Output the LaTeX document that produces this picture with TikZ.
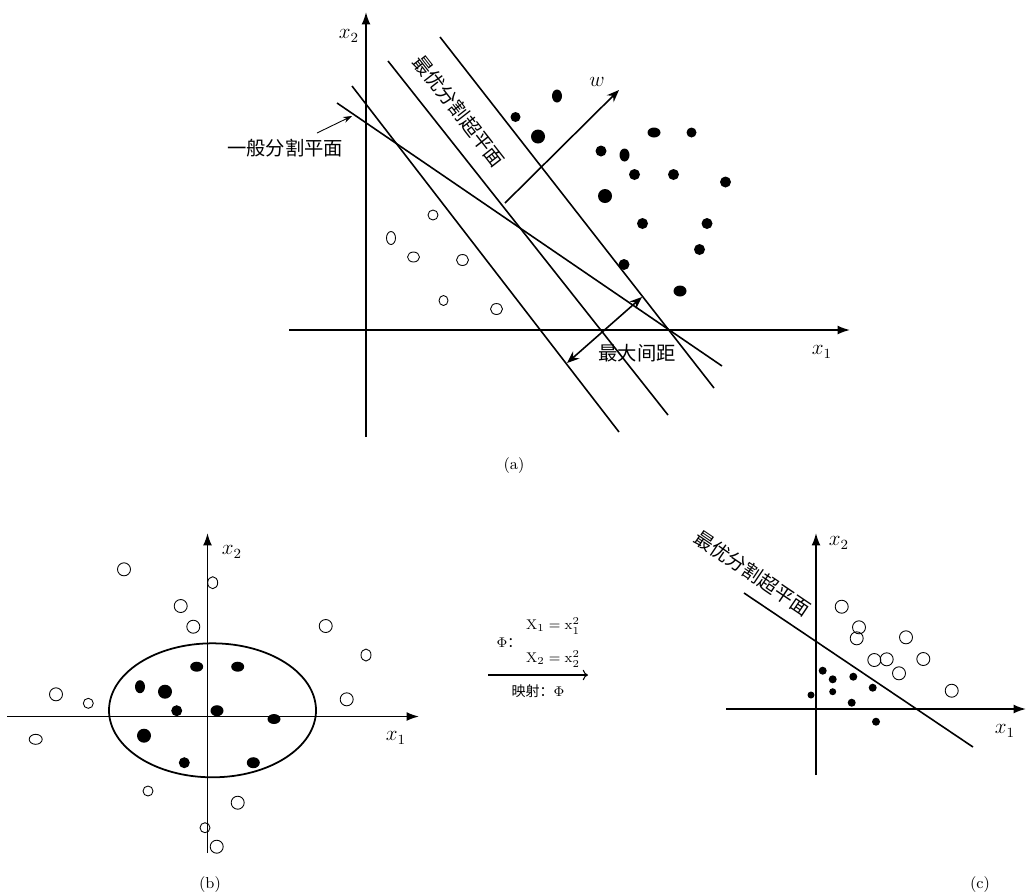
\documentclass[tikz,border=0pt]{standalone}
\usepackage{fontspec}
\newfontfamily\cjk{Noto Sans CJK SC}
\usetikzlibrary{arrows.meta}
\begin{document}
\begin{tikzpicture}[x=0.02cm,y=-0.02cm,
  axis/.style={line width=0.9pt,-{Latex[length=7pt,width=5pt]}},
  hline/.style={line width=0.9pt},
  arr/.style={line width=0.9pt,-{Stealth[length=7pt,width=5.5pt]}},
  darr/.style={line width=0.9pt,{Stealth[length=7pt,width=5.5pt]}-{Stealth[length=7pt,width=5.5pt]}},
  odot/.style={draw=black,line width=0.5pt},
  lab/.style={font=\fontsize{12}{14}\selectfont,inner sep=0pt},
  cn/.style={font=\cjk\fontsize{11}{13}\selectfont,inner sep=0pt},
  captxt/.style={font=\fontsize{9}{11}\selectfont,inner sep=0pt},
  small/.style={font=\fontsize{8}{9.5}\selectfont,inner sep=0pt}
]
\useasboundingbox (0,0) rectangle (1027,894);

% ---------------- (a) ----------------
\coordinate (ay0) at (366,437); \coordinate (ay1) at (366,12);
\coordinate (ax0) at (289,330); \coordinate (ax1) at (850,330);
\draw[axis] (ay0) -- (ay1);
\draw[axis] (ax0) -- (ax1);
\node[lab] (ax2l) at (349,36) {$x_2$};
\node[lab] (ax1l) at (822,352) {$x_1$};

\coordinate (l1a) at (352,86);  \coordinate (l1b) at (619,432);
\coordinate (l2a) at (388,61);  \coordinate (l2b) at (668,415);
\coordinate (l3a) at (440,37);  \coordinate (l3b) at (714,388);
\coordinate (ga) at (337,103);  \coordinate (gb) at (722,366);
\draw[hline] (l1a) -- (l1b);
\draw[hline] (l2a) -- (l2b);
\draw[hline] (l3a) -- (l3b);
\draw[hline] (ga) -- (gb);

\node[cn,rotate=-52] (opt) at (459,111) {最优分割超平面};
\node[cn] (gen) at (285,148) {一般分割平面};
\coordinate (gs) at (317,133); \coordinate (gp) at (352,116);
\draw[line width=0.5pt,-{Stealth[length=5pt,width=3.5pt]}] (gs) -- (gp);

\coordinate (w0) at (505,203); \coordinate (w1) at (619,90);
\draw[arr] (w0) -- (w1);
\node[lab] (wl) at (597,82) {$w$};

\coordinate (m0) at (567,363); \coordinate (m1) at (642,297);
\draw[darr] (m0) -- (m1);
\node[cn] (maxm) at (637,353) {最大间距};

% filled dots (a)
\fill (557,96) ellipse [x radius=5,y radius=6.5];
\fill (515.5,117) circle [radius=5];
\fill (538,136.5) circle [radius=7];
\fill (654,132.5) ellipse [x radius=6.5,y radius=5];
\fill (691.5,132.5) circle [radius=5];
\fill (601,151) circle [radius=5.5];
\fill (624.5,155) ellipse [x radius=5,y radius=6.5];
\fill (634.5,174.5) circle [radius=5.5];
\fill (673.5,174.5) circle [radius=5.5];
\fill (725.5,182) circle [radius=5.5];
\fill (605,196) circle [radius=7];
\fill (642.5,223.5) circle [radius=5.5];
\fill (707,223.5) circle [radius=5.5];
\fill (699.5,249.5) circle [radius=5.5];
\fill (624,264.5) circle [radius=5.5];
\fill (680,291) ellipse [x radius=6.5,y radius=5.5];

% open circles (a)
\draw[odot] (433,215) circle [radius=5];
\draw[odot] (391,238) ellipse [x radius=4.5,y radius=6.5];
\draw[odot] (413.5,257) ellipse [x radius=6,y radius=5];
\draw[odot] (462.5,260) ellipse [x radius=6,y radius=5.5];
\draw[odot] (443.5,300.5) ellipse [x radius=4.5,y radius=5];
\draw[odot] (496.5,309) ellipse [x radius=6,y radius=5.5];

\node[captxt] (capa) at (514,466) {(a)};

% ---------------- (b) ----------------
\coordinate (by0) at (207.5,853); \coordinate (by1) at (207.5,533);
\coordinate (bx0) at (7,716.5); \coordinate (bx1) at (419,716.5);
\draw[axis] (by0) -- (by1);
\draw[axis] (bx0) -- (bx1);
\node[lab] (bx2l) at (232,552) {$x_2$};
\node[lab] (bx1l) at (396,738) {$x_1$};
\draw[line width=1pt] (212.5,710.3) ellipse [x radius=103.5,y radius=67];

\fill (196.7,666.7) ellipse [x radius=6.5,y radius=5];
\fill (237.7,666.7) ellipse [x radius=6.5,y radius=5];
\fill (140,686.7) ellipse [x radius=5,y radius=6.5];
\fill (165,691.7) circle [radius=7];
\fill (176.7,710.7) circle [radius=5.5];
\fill (217,710.7) ellipse [x radius=6.5,y radius=5.5];
\fill (274,719) ellipse [x radius=6.5,y radius=5];
\fill (144,735.7) circle [radius=7];
\fill (184.3,762.7) circle [radius=5.5];
\fill (253.3,762.7) ellipse [x radius=6.5,y radius=5.5];

\draw[odot] (124,569.3) circle [radius=6.5];
\draw[odot] (212.7,582.7) ellipse [x radius=5,y radius=6];
\draw[odot] (180.7,606) circle [radius=6.5];
\draw[odot] (193.3,626.7) circle [radius=6.5];
\draw[odot] (325.7,626) circle [radius=6.5];
\draw[odot] (366,655) ellipse [x radius=5,y radius=6];
\draw[odot] (56,694.3) circle [radius=6.5];
\draw[odot] (88.3,703.3) circle [radius=5];
\draw[odot] (346.7,699.3) circle [radius=6.5];
\draw[odot] (35.7,739.3) ellipse [x radius=6.5,y radius=5];
\draw[odot] (148,791) circle [radius=5];
\draw[odot] (237.7,802.7) circle [radius=6.5];
\draw[odot] (205,827.7) circle [radius=5];
\draw[odot] (216.7,846.7) circle [radius=6.5];

\node[captxt] (capb) at (210,885) {(b)};

% ---------------- mapping ----------------
\node[small] (phi) at (509,643) {$\Phi$\cjk ：};
\node[small] (eq1) at (553,626) {$\mathrm{X}_1=\mathrm{x}_1^2$};
\node[small] (eq2) at (553,659) {$\mathrm{X}_2=\mathrm{x}_2^2$};
\coordinate (ma) at (488,675); \coordinate (mb) at (588,675);
\draw[line width=0.6pt,-{To[length=3pt,width=6pt]}] (ma) -- (mb);
\node[small] (map) at (538,691) {{\cjk 映射：}$\Phi$};

% ---------------- (c) ----------------
\coordinate (cy0) at (816,775); \coordinate (cy1) at (816,533);
\coordinate (cx0) at (726,709); \coordinate (cx1) at (1026,709);
\draw[axis] (cy0) -- (cy1);
\draw[axis] (cx0) -- (cx1);
\node[lab] (cx2l) at (839,543) {$x_2$};
\node[lab] (cx1l) at (1005,731) {$x_1$};
\coordinate (ca) at (744,593); \coordinate (cb) at (973,747);
\draw[hline] (ca) -- (cb);
\node[cn,rotate=-34] (copt) at (753,573) {最优分割超平面};

\draw[odot] (841.7,606.7) circle [radius=6.5];
\draw[odot] (859,627.3) circle [radius=6.5];
\draw[odot] (856.7,638.3) circle [radius=6.5];
\draw[odot] (906,637.3) circle [radius=6.5];
\draw[odot] (874.3,660) circle [radius=6.5];
\draw[odot] (886.7,659.3) circle [radius=6.5];
\draw[odot] (923.3,659) circle [radius=6.5];
\draw[odot] (899,673.3) circle [radius=6.5];
\draw[odot] (951.7,690.7) circle [radius=6.5];

\fill (822.7,670.7) circle [radius=4];
\fill (832.7,679.3) circle [radius=4];
\fill (853.3,676.7) circle [radius=4];
\fill (872.7,687.7) circle [radius=4];
\fill (811,695) circle [radius=3.5];
\fill (832.7,691.7) circle [radius=3.5];
\fill (851.7,702.7) circle [radius=4];
\fill (876,721.7) circle [radius=4];

\node[captxt] (capc) at (980,885) {(c)};
\end{tikzpicture}
\end{document}
